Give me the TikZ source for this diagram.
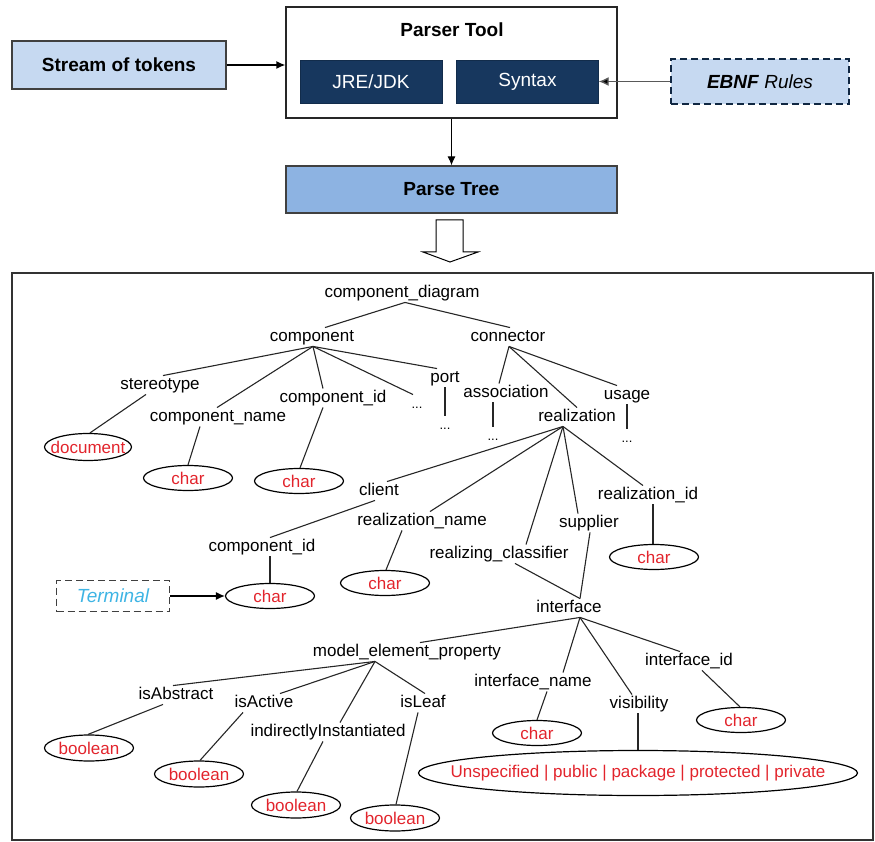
\documentclass[tikz,border=0pt]{standalone}
\usepackage{fontspec}
\setmainfont{Liberation Sans}
\usetikzlibrary{arrows.meta,positioning,shapes.geometric}
\definecolor{navy}{RGB}{23,55,94}
\definecolor{paleblue}{RGB}{198,217,241}
\definecolor{treeblue}{RGB}{141,179,226}
\definecolor{leafred}{RGB}{226,36,44}
\definecolor{termcyan}{RGB}{62,180,228}

\begin{document}
\begin{tikzpicture}[x=1pt,y=-1pt,>={Latex[length=9pt,width=8pt]},
 tn/.style={font=\fontsize{17}{19}\selectfont,inner sep=1.5pt,text height=12pt,text depth=3.5pt},
 dd/.style={font=\fontsize{13}{15}\selectfont,inner sep=1.5pt,text height=12pt,text depth=3.5pt},
 lf/.style={ellipse,draw,line width=1.2pt,text=leafred,font=\fontsize{17}{19}\selectfont,inner sep=-40pt,minimum width=89pt,minimum height=25pt},
 box/.style={draw=black!75,line width=1.3pt,font=\fontsize{19}{22}\selectfont\bfseries,inner sep=0pt},
 tool/.style={fill=navy,draw=navy!80!black,text=white,font=\fontsize{19}{22}\selectfont,inner sep=0pt,minimum width=142pt,minimum height=43pt},
 dsh/.style={dash pattern=on 7pt off 4pt},
 tl/.style={line width=1.1pt,black!85}]
\useasboundingbox (0,0) rectangle (875,842);

% parser stage
\node[box,fill=paleblue,minimum width=214pt,minimum height=48pt] (stream) at (119,65) {Stream of tokens};
\node[box,draw=black!85,fill=white,minimum width=331pt,minimum height=111pt] (parser) at (451.5,62.5) {};
\node[font=\fontsize{19}{22}\selectfont\bfseries] (ptool) at (452,30) {Parser Tool};
\node[tool] (jre) at (371,81.5) {JRE/JDK};
\node[tool] (syn) at (527.5,81.5) {Syntax};
\node[box,dsh,draw=navy!70!black,fill=paleblue,font=\fontsize{19}{22}\selectfont,minimum width=178pt,minimum height=45pt] (ebnf) at (760,81.5) {\textbf{\textit{EBNF}} \textit{Rules}};
\node[box,fill=treeblue,minimum width=331pt,minimum height=47pt] (ptree) at (451.5,189.5) {Parse Tree};
\draw[->,line width=1.3pt] (stream.east) -- (stream.east -| parser.west);
\draw[-{Latex[length=10pt,width=9pt,fill=black]},line width=1.3pt,black!65] (ebnf.west) -- (syn.east);
\draw[->,line width=1pt] (parser.south) -- (ptree.north);
% hollow arrow down to the tree
\draw[line width=1pt,fill=white] (436,220) -- (463,220) -- (463,252) -- (478,252) -- (450,262) -- (423,252) -- (436,252) -- cycle;
\draw[line width=1.3pt,black!80] (12,273) rectangle (873,840);

% parse tree
\node[tn] (cd) at (402,293) {component\_diagram};
\node[tn] (cmp) at (312,337) {component};
\node[tn] (con) at (508,337) {connector};
\node[tn] (ster) at (160,385) {stereotype};
\node[tn] (cname) at (218,417) {component\_name};
\node[tn] (cid) at (333,398) {component\_id};
\node[dd] (cdots) at (417,404) {...};
\node[tn] (port) at (445,378) {port};
\node[dd] (pdots) at (445,425) {...};
\node[lf,minimum width=87pt,minimum height=27pt] (doc) at (88,447) {document};
\node[lf] (cnch) at (188,478) {char};
\node[lf] (cidch) at (299,481) {char};
\node[tn] (asc) at (506,393) {association};
\node[dd] (adots) at (493,436) {...};
\node[tn] (rlz) at (577,417) {realization};
\node[tn] (usg) at (627,395) {usage};
\node[dd] (udots) at (627,438) {...};
\node[tn] (cli) at (379,491) {client};
\node[tn] (rname) at (422,521) {realization\_name};
\node[tn] (rcls) at (499,554) {realizing\_classifier};
\node[tn] (sup) at (589,523) {supplier};
\node[tn] (rid) at (648,495) {realization\_id};
\node[lf] (ridch) at (654,557) {char};
\node[tn] (ccid) at (262,547) {component\_id};
\node[lf] (ccidch) at (270,596) {char};
\node[lf] (rnch) at (385,583) {char};
\node[draw=black!75,dsh,line width=1.3pt,minimum width=113pt,minimum height=31pt,text=termcyan,font=\fontsize{19}{22}\selectfont\itshape] (term) at (113,596) {Terminal};
\node[tn] (intf) at (569,608) {interface};
\node[tn] (mep) at (407,652) {model\_element\_property};
\node[tn] (isab) at (176,695) {isAbstract};
\node[tn] (isac) at (264,703) {isActive};
\node[tn] (indi) at (328,732) {indirectlyInstantiated};
\node[tn] (isle) at (423,703) {isLeaf};
\node[lf,minimum height=26pt] (bab) at (89,748) {boolean};
\node[lf,minimum height=26pt] (bac) at (199,774) {boolean};
\node[lf,minimum height=26pt] (bin) at (296,805) {boolean};
\node[lf,minimum height=26pt] (ble) at (395,818) {boolean};
\node[tn] (iname) at (533,682) {interface\_name};
\node[tn] (vis) at (639,704) {visibility};
\node[tn] (iid) at (689,661) {interface\_id};
\node[lf] (inch) at (537,733) {char};
\node[lf] (iidch) at (741,720) {char};
\node[lf,minimum width=439pt,minimum height=45pt] (visel) at (638,773) {Unspecified | public | package | protected | private};

% branches: parent/shift/child/shift
\foreach \a/\sa/\b/\sb in {cd/3/cmp/13,cd/3/con/2,
  cmp/1/ster/3,cmp/1/cname/-1,cmp/1/cid/-10,cmp/1/cdots/-4,cmp/1/port/-8,
  ster/-14/doc/2,cname/-18/cnch/0,cid/-10/cidch/1,port/0/pdots/0,
  con/1/asc/-7,con/1/rlz/0,con/1/usg/-10,asc/-13/adots/0,usg/0/udots/0,
  rlz/-14/cli/8,rlz/-14/rname/8,rlz/-14/rcls/27,rlz/-14/sup/-11,rlz/-14/rid/-5,
  rid/5/ridch/-1,cli/-4/ccid/8,ccid/8/ccidch/0,rname/-20/rnch/1,
  sup/1/intf/11,rcls/16/intf/11,
  intf/11/mep/13,intf/11/iname/30,intf/11/vis/-7,intf/11/iid/-9,
  iname/14/inch/0,vis/-1/visel/0,iid/13/iidch/-1,
  mep/-32/isab/-3,mep/-32/isac/16,mep/-32/indi/12,mep/-32/isle/2,
  isab/-13/bab/-1,isac/-21/bac/1,indi/-5/bin/1,isle/-5/ble/1}
  \draw[tl] ([xshift=\sa]\a.south) -- ([xshift=\sb]\b.north);
\draw[->,line width=1.1pt] (term.east) -- (ccidch.west);
\end{tikzpicture}
\end{document}
